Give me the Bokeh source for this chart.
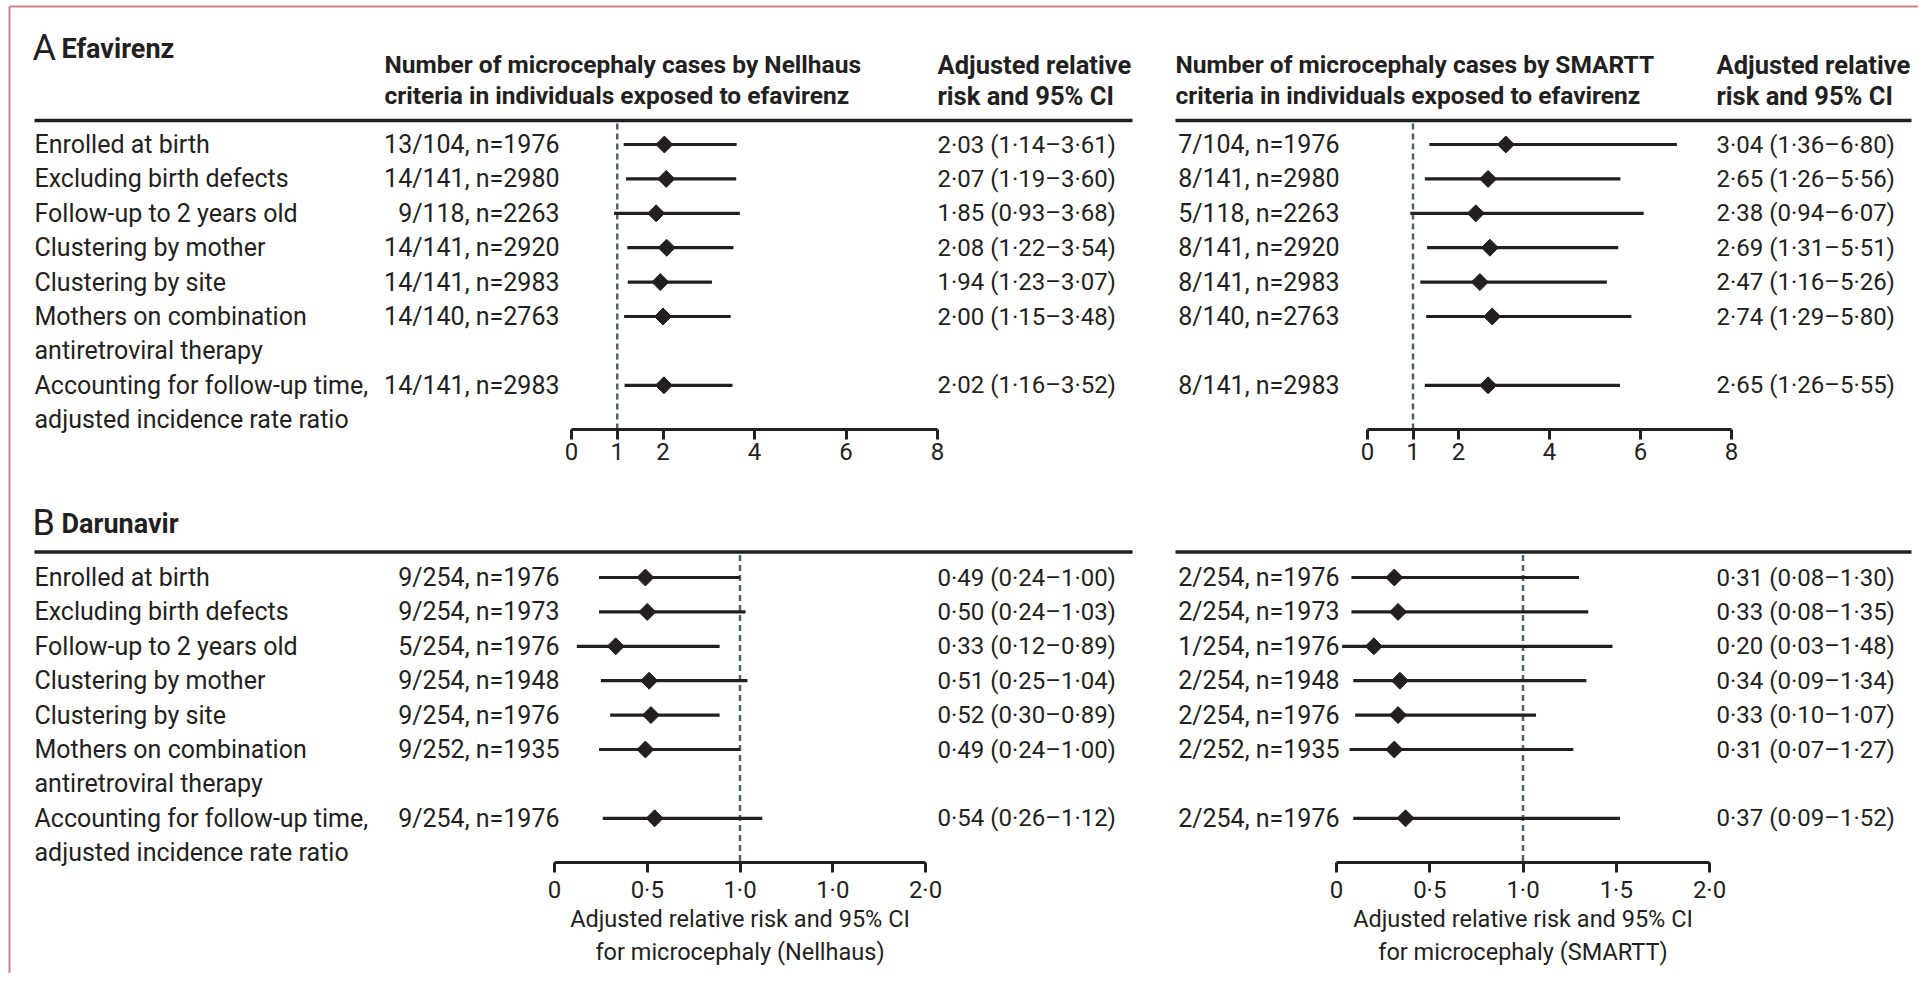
import math
from bokeh.plotting import figure
from bokeh.models import Range1d, LinearAxis, FixedTicker
from bokeh.embed import file_html
from bokeh.resources import INLINE
from bokeh.core.properties import value

# ---------------- data ----------------
row_labels = ["Enrolled at birth", "Excluding birth defects", "Follow-up to 2 years old",
              "Clustering by mother", "Clustering by site",
              "Mothers on combination\nantiretroviral therapy",
              "Accounting for follow-up time,\nadjusted incidence rate ratio"]
row_pos = [0, 1, 2, 3, 4, 5, 7]

efv_nell_cases = ["13/104, n=1976", "14/141, n=2980", "9/118, n=2263", "14/141, n=2920",
                  "14/141, n=2983", "14/140, n=2763", "14/141, n=2983"]
efv_nell_rr = [2.03, 2.07, 1.85, 2.08, 1.94, 2.00, 2.02]
efv_nell_lo = [1.14, 1.19, 0.93, 1.22, 1.23, 1.15, 1.16]
efv_nell_hi = [3.61, 3.60, 3.68, 3.54, 3.07, 3.48, 3.52]

efv_smartt_cases = ["7/104, n=1976", "8/141, n=2980", "5/118, n=2263", "8/141, n=2920",
                    "8/141, n=2983", "8/140, n=2763", "8/141, n=2983"]
efv_smartt_rr = [3.04, 2.65, 2.38, 2.69, 2.47, 2.74, 2.65]
efv_smartt_lo = [1.36, 1.26, 0.94, 1.31, 1.16, 1.29, 1.26]
efv_smartt_hi = [6.80, 5.56, 6.07, 5.51, 5.26, 5.80, 5.55]

drv_nell_cases = ["9/254, n=1976", "9/254, n=1973", "5/254, n=1976", "9/254, n=1948",
                  "9/254, n=1976", "9/252, n=1935", "9/254, n=1976"]
drv_nell_rr = [0.49, 0.50, 0.33, 0.51, 0.52, 0.49, 0.54]
drv_nell_lo = [0.24, 0.24, 0.12, 0.25, 0.30, 0.24, 0.26]
drv_nell_hi = [1.00, 1.03, 0.89, 1.04, 0.89, 1.00, 1.12]

drv_smartt_cases = ["2/254, n=1976", "2/254, n=1973", "1/254, n=1976", "2/254, n=1948",
                    "2/254, n=1976", "2/252, n=1935", "2/254, n=1976"]
drv_smartt_rr = [0.31, 0.33, 0.20, 0.34, 0.33, 0.31, 0.37]
drv_smartt_lo = [0.08, 0.08, 0.03, 0.09, 0.10, 0.07, 0.09]
drv_smartt_hi = [1.30, 1.35, 1.48, 1.34, 1.07, 1.27, 1.52]

efv_ticks = [0, 1, 2, 4, 6, 8]
efv_tick_labels = ["0", "1", "2", "4", "6", "8"]
drv_ticks = [0, 0.5, 1.0, 1.5, 2.0]
drv_nell_tick_labels = ["0", "0·5", "1·0", "1·0", "2·0"]
drv_smartt_tick_labels = ["0", "0·5", "1·0", "1·5", "2·0"]

# ---------------- style / layout ----------------
FONT = "Roboto"
INK = "#231f20"
DASH = "#4f6270"
BORDER = "#d0808e"
FS = "25px"
CIFS = "24px"
HFS = "24.5px"

W, H = 1918, 973
L, T = 0, 0  # page offset of the figure
R, B = L + W, T + H

p = figure(width=W, height=H, x_range=Range1d(L, R), y_range=Range1d(B, T),
           output_backend="svg", toolbar_location=None, min_border=0,
           x_axis_location=None, y_axis_location=None)
p.grid.visible = False
p.outline_line_color = None
p.background_fill_color = "white"


def xr(d0, p0, d1, p1):
    k = (p1 - p0) / (d1 - d0)
    return Range1d(d0 + (L - p0) / k, d0 + (R - p0) / k)


def yr(y0, pitch):
    return Range1d((B - y0) / pitch, (T - y0) / pitch)


PITCH = 34.4
p.extra_x_ranges = {
    "a_n": xr(0, 571, 8, 937),
    "a_s": xr(0, 1367, 8, 1731),
    "b_n": xr(0, 554, 2, 925),
    "b_s": xr(0, 1336, 2, 1709),
}
p.extra_y_ranges = {"rows_a": yr(144, PITCH), "rows_b": yr(577, PITCH)}


def fmt(rr, lo, hi):
    return f"{rr:.2f} ({lo:.2f}–{hi:.2f})".replace(".", "·")


def txt(x, y, text, size=FS, bold=False, align="left", baseline="middle", yname="default"):
    p.text(x=x, y=y, text=text, text_font=value(FONT), text_font_size=size,
           text_font_style="bold" if bold else "normal", text_align=align,
           text_baseline=baseline, text_color=INK, y_range_name=yname)


# border
p.segment(x0=[9], x1=[R], y0=[6], y1=[6], line_color=BORDER, line_width=2)
p.segment(x0=[9], x1=[9], y0=[6], y1=[B], line_color=BORDER, line_width=2)

sections = [
    dict(letter="A", name="Efavirenz", drug="efavirenz", title_y=47, head_y=(64, 95), rule_y=120,
         axis_y=429, rows="rows_a",
         panels=[
             dict(crit="Nellhaus", rng="a_n", cases=efv_nell_cases, rr=efv_nell_rr, lo=efv_nell_lo,
                  hi=efv_nell_hi, ticks=efv_ticks, tl=efv_tick_labels, bounds=(0, 8),
                  cx=559, cix=937, hx=384, rule=(34, 1132), ref=1),
             dict(crit="SMARTT", rng="a_s", cases=efv_smartt_cases, rr=efv_smartt_rr,
                  lo=efv_smartt_lo, hi=efv_smartt_hi, ticks=efv_ticks, tl=efv_tick_labels,
                  bounds=(0, 8), cx=1339, cix=1716, hx=1175, rule=(1175, 1911), ref=1),
         ], axis_title=False),
    dict(letter="B", name="Darunavir", drug="darunavir", title_y=522, head_y=None, rule_y=551.5,
         axis_y=862, rows="rows_b",
         panels=[
             dict(crit="Nellhaus", rng="b_n", cases=drv_nell_cases, rr=drv_nell_rr, lo=drv_nell_lo,
                  hi=drv_nell_hi, ticks=drv_ticks, tl=drv_nell_tick_labels, bounds=(0, 2),
                  cx=559, cix=937, hx=384, rule=(34, 1132), ref=1.0),
             dict(crit="SMARTT", rng="b_s", cases=drv_smartt_cases, rr=drv_smartt_rr,
                  lo=drv_smartt_lo, hi=drv_smartt_hi, ticks=drv_ticks, tl=drv_smartt_tick_labels,
                  bounds=(0, 2), cx=1339, cix=1716, hx=1175, rule=(1175, 1911), ref=1.0),
         ], axis_title=True),
]

for s in sections:
    rows = s["rows"]
    # section title
    txt([32], [s["title_y"]], [s["letter"]], size="36px")
    txt([61], [s["title_y"] + 1], [s["name"]], size="27px", bold=True)
    # row labels (split multi-line)
    lx, ly, lt = [], [], []
    for lab, r in zip(row_labels, row_pos):
        for j, line in enumerate(lab.split("\n")):
            lx.append(34); ly.append(r + j); lt.append(line)
    txt(lx, ly, lt, yname=rows)
    for pn in s["panels"]:
        # headers
        if s["head_y"] is not None:
            y1, y2 = s["head_y"]
            txt([pn["hx"], pn["hx"]], [y1, y2],
                [f"Number of microcephaly cases by {pn['crit']}",
                 f"criteria in individuals exposed to {s['drug']}"], size=HFS, bold=True)
            txt([pn["cix"], pn["cix"]], [y1, y2], ["Adjusted relative", "risk and 95% CI"],
                size="25.5px", bold=True)
        # rule
        p.segment(x0=[pn["rule"][0]], x1=[pn["rule"][1]], y0=[s["rule_y"]], y1=[s["rule_y"]],
                  line_color=INK, line_width=3.5)
        # counts + CI text
        txt([pn["cx"]] * len(row_pos), row_pos, pn["cases"], align="right", yname=rows)
        txt([pn["cix"]] * len(row_pos), row_pos,
            [fmt(a, b, c) for a, b, c in zip(pn["rr"], pn["lo"], pn["hi"])], size=CIFS,
            yname=rows)
        # reference dashed line
        p.segment(x0=[pn["ref"]], x1=[pn["ref"]], y0=[s["rule_y"] + 3], y1=[s["axis_y"]],
                  x_range_name=pn["rng"], line_color=DASH, line_width=2.5, line_dash="6 4")
        # CIs and points
        p.segment(x0=pn["lo"], x1=pn["hi"], y0=row_pos, y1=row_pos, x_range_name=pn["rng"],
                  y_range_name=rows, line_color=INK, line_width=3.2)
        p.scatter(x=pn["rr"], y=row_pos, marker="square", size=12, angle=math.pi / 4,
                  x_range_name=pn["rng"], y_range_name=rows, fill_color=INK, line_color=INK,
                  line_width=1)
        # axis
        ax = LinearAxis(x_range_name=pn["rng"], fixed_location=s["axis_y"], bounds=pn["bounds"],
                        ticker=FixedTicker(ticks=pn["ticks"], minor_ticks=[]),
                        major_label_overrides={t: l for t, l in zip(pn["ticks"], pn["tl"])},
                        axis_line_color=INK, axis_line_width=3,
                        major_tick_line_color=INK, major_tick_line_width=3,
                        major_tick_in=0, major_tick_out=10, minor_tick_line_color=None,
                        major_label_text_font=FONT, major_label_text_font_size="24px",
                        major_label_text_color=INK, major_label_standoff=3)
        if s["axis_title"]:
            ax.axis_label = (f"Adjusted relative risk and 95% CI\n"
                             f"for microcephaly ({pn['crit']})")
            ax.axis_label_text_font = FONT
            ax.axis_label_text_font_size = "23.5px"
            ax.axis_label_text_font_style = "normal"
            ax.axis_label_text_color = INK
            ax.axis_label_standoff = -2
            ax.axis_label_text_line_height = 1.2
        p.add_layout(ax, "below")

open("out.html", "w").write(file_html(p, INLINE))
